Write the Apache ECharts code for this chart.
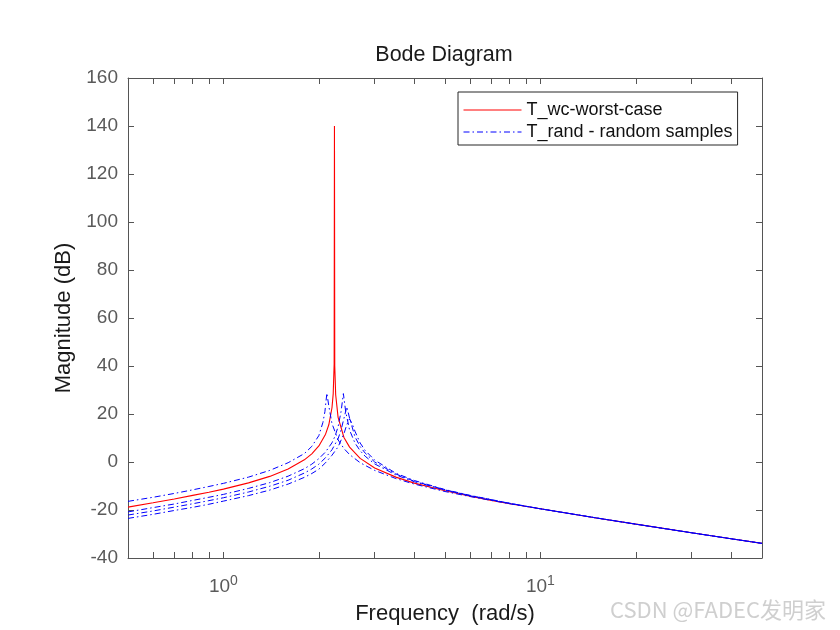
<!DOCTYPE html>
<html>
<head>
<meta charset="utf-8">
<title>Bode Diagram</title>
<script src="https://cdn.jsdelivr.net/npm/echarts@6/dist/echarts.min.js"></script>
<style>
  html, body { margin: 0; padding: 0; background: #fff; }
  #chart { width: 840px; height: 630px; }
</style>
</head>
<body>
<div id="chart"></div>
<script>
// 最坏情况 T_wc（红色实线）
const freqWc = [0.5, 0.6, 0.7, 0.8, 0.9, 1.0, 1.2, 1.4, 1.6, 1.8, 1.9, 2.0, 2.1, 2.15, 2.2, 2.22, 2.235, 2.24, 2.245, 2.26, 2.3, 2.4, 2.5, 2.7, 3.0, 3.5, 4, 5, 6, 7, 8, 10, 15, 20, 30, 40, 50];
const magWc = [-18.8, -17.0, -15.4, -13.9, -12.6, -11.3, -8.7, -6.0, -2.9, 0.9, 3.4, 6.7, 11.6, 15.5, 22.6, 28.5, 40.8, 140, 40, 28, 18.6, 10.2, 6.2, 1.5, -2.5, -6.3, -8.8, -12.0, -14.3, -16.0, -17.4, -19.5, -23.3, -25.9, -29.5, -32.0, -33.9];

// 随机样本 T_rand（蓝色点划线）
const freqRand1 = [0.5, 0.6, 0.7, 0.8, 0.9, 1.0, 1.2, 1.4, 1.6, 1.8, 1.9, 2.0, 2.06, 2.09, 2.12, 2.15, 2.2, 2.3, 2.4, 2.5, 2.7, 3.0, 3.5, 4, 5, 6, 8, 10, 15, 20, 30, 40, 50];
const magRand1 = [-16.4, -14.7, -13.1, -11.6, -10.2, -8.9, -6.3, -3.5, -0.3, 3.5, 6.5, 11.0, 16.5, 21.0, 28.7, 23.3, 16.0, 9.2, 5.6, 3.1, -0.3, -3.5, -6.9, -9.2, -12.3, -14.4, -17.4, -19.5, -23.3, -25.9, -29.5, -32.0, -33.9];

const freqRand2 = [0.5, 0.6, 0.7, 0.8, 0.9, 1.0, 1.2, 1.4, 1.6, 1.8, 1.9, 2.0, 2.1, 2.2, 2.25, 2.3, 2.35, 2.39, 2.43, 2.5, 2.6, 2.7, 2.8, 3.0, 3.5, 4, 5, 6, 8, 10, 15, 20, 30, 40, 50];
const magRand2 = [-20.8, -19.0, -17.5, -16.0, -14.7, -13.5, -11.0, -8.6, -5.9, -2.8, -0.9, 1.4, 4.2, 8.0, 10.8, 14.7, 21.0, 28.5, 21.1, 13.3, 7.9, 4.7, 2.4, -0.8, -5.4, -8.2, -11.7, -14.1, -17.3, -19.5, -23.3, -25.9, -29.5, -32.0, -33.9];

const freqRand3 = [0.5, 0.6, 0.7, 0.8, 0.9, 1.0, 1.2, 1.4, 1.6, 1.8, 1.9, 2.0, 2.1, 2.2, 2.3, 2.35, 2.4, 2.45, 2.5, 2.6, 2.7, 2.8, 3.0, 3.5, 4, 5, 6, 8, 10, 15, 20, 30, 40, 50];
const magRand3 = [-22.1, -20.4, -18.8, -17.4, -16.1, -14.9, -12.5, -10.1, -7.6, -4.6, -2.9, -0.9, 1.8, 5.1, 9.7, 13.3, 18.2, 23.0, 18.3, 10.5, 6.4, 3.7, 0, -5.0, -8.0, -11.6, -14.0, -17.2, -19.5, -23.3, -25.9, -29.5, -32.0, -33.9];

const freqRand4 = [0.5, 0.6, 0.7, 0.8, 0.9, 1.0, 1.2, 1.4, 1.6, 1.8, 1.9, 2.0, 2.1, 2.2, 2.3, 2.4, 2.45, 2.5, 2.55, 2.6, 2.7, 2.8, 3.0, 3.5, 4, 5, 6, 8, 10, 15, 20, 30, 40, 50];
const magRand4 = [-23.5, -21.8, -20.2, -18.9, -17.6, -16.3, -14.0, -11.7, -9.2, -6.4, -4.8, -3.0, -0.3, 2.8, 6.3, 11.8, 15.5, 18.0, 15.8, 12.8, 7.9, 4.8, 0.8, -4.7, -7.7, -11.5, -13.9, -17.2, -19.5, -23.3, -25.9, -29.5, -32.0, -33.9];

// 坐标轴刻度
const xTickValues = [0.5, 0.6, 0.7, 0.8, 0.9, 1, 2, 3, 4, 5, 6, 7, 8, 9, 10, 20, 30, 40, 50];
const xLabelValues = [1, 10];
const yMin = -40, yMax = 160, yStep = 20;

const nameWc = 'T_wc-worst-case';
const nameRand = 'T_rand - random samples';

const fontEn = "'Liberation Sans', Arial, sans-serif";
const axisColor = '#555555';
const labelColor = '#5a5a5a';

const zip = (xs, ys) => xs.map((x, i) => [x, ys[i]]);

const randLine = { color: '#0000ff', width: 1, type: [6, 3, 1.5, 3] };
function randSeries(xs, ys) {
  return {
    name: nameRand, type: 'line', symbol: 'none', smooth: false,
    lineStyle: randLine, itemStyle: { color: '#0000ff' },
    data: zip(xs, ys),
  };
}

// 对数坐标轴（下方带标签，上方只画刻度）
function xAxisOf(pos) {
  return {
    type: 'log', logBase: 10, min: 0.5, max: 50, position: pos,
    axisLine: { show: true, onZero: false, lineStyle: { color: axisColor, width: 1 } },
    axisTick: { show: true, inside: true, length: 6, customValues: xTickValues, lineStyle: { color: axisColor } },
    minorTick: { show: false },
    splitLine: { show: false },
    axisLabel: pos === 'bottom' ? {
      show: true, customValues: xLabelValues, margin: 16,
      formatter: v => '{b|10}{e|' + Math.round(Math.log10(v)) + '}',
      rich: {
        b: { fontSize: 19, color: labelColor, fontFamily: fontEn },
        e: { fontSize: 14, color: labelColor, fontFamily: fontEn, verticalAlign: 'top', padding: [0, 0, 12, 0] },
      },
    } : { show: false },
    name: pos === 'bottom' ? 'Frequency  (rad/s)' : '',
    nameLocation: 'middle', nameGap: 45,
    nameTextStyle: { fontSize: 22, color: '#1a1a1a', fontFamily: fontEn },
  };
}

function yAxisOf(pos) {
  return {
    type: 'value', min: yMin, max: yMax, interval: yStep, position: pos,
    axisLine: { show: true, onZero: false, lineStyle: { color: axisColor, width: 1 } },
    axisTick: { show: true, inside: true, length: 6, lineStyle: { color: axisColor } },
    splitLine: { show: false },
    axisLabel: pos === 'left' ? { show: true, fontSize: 19, color: labelColor, fontFamily: fontEn, margin: 10 } : { show: false },
    name: pos === 'left' ? 'Magnitude (dB)' : '',
    nameLocation: 'middle', nameGap: 46,
    nameTextStyle: { fontSize: 22, color: '#1a1a1a', fontFamily: fontEn },
  };
}

const chart = echarts.init(document.getElementById('chart'), null, { renderer: 'canvas' });
chart.setOption({
  animation: false,
  backgroundColor: '#ffffff',
  grid: { left: 128, right: 78, top: 78, bottom: 69, containLabel: false },
  graphic: [
    {
      type: 'text', x: 444, y: 55,
      style: { text: 'Bode Diagram', fontSize: 21.5, fill: '#1a1a1a', fontFamily: fontEn, align: 'center', verticalAlign: 'middle' },
    },
    {
      // 水印
      type: 'text', x: 610, y: 610,
      style: { text: 'CSDN @FADEC发明家', fontSize: 22, fill: 'rgba(160,160,160,0.5)', fontFamily: "'Noto Sans CJK SC', " + fontEn, verticalAlign: 'middle' },
    },
  ],
  legend: {
    orient: 'vertical', left: 458, top: 92,
    data: [nameWc, nameRand],
    itemWidth: 58, itemHeight: 14, itemGap: 4,
    padding: [9, 5, 4, 5],
    borderColor: '#262626', borderWidth: 1, backgroundColor: '#ffffff',
    itemStyle: { color: 'transparent', borderColor: 'transparent', borderWidth: 0, opacity: 0 },
    lineStyle: { width: 1 },
    textStyle: { fontSize: 18, color: '#111', fontFamily: fontEn },
  },
  xAxis: [xAxisOf('bottom'), xAxisOf('top')],
  yAxis: [yAxisOf('left'), yAxisOf('right')],
  series: [
    {
      name: nameWc, type: 'line', symbol: 'none', smooth: false,
      lineStyle: { color: '#ff0000', width: 1.1 }, itemStyle: { color: '#ff0000' },
      data: zip(freqWc, magWc),
    },
    randSeries(freqRand1, magRand1),
    randSeries(freqRand2, magRand2),
    randSeries(freqRand3, magRand3),
    randSeries(freqRand4, magRand4),
  ],
});
</script>
</body>
</html>
